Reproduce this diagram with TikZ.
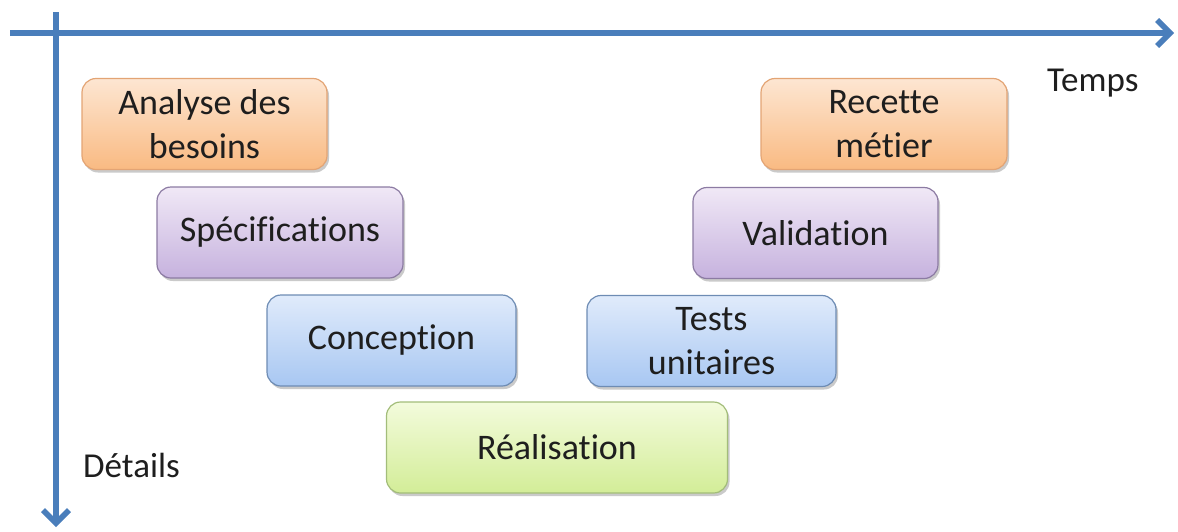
\documentclass[tikz,border=0pt]{standalone}
\usepackage{fontspec}
\setmainfont{Carlito}[Ligatures=NoCommon]
\usetikzlibrary{arrows.meta,shadows}
\definecolor{axisblue}{HTML}{4A7EBB}
\definecolor{txt}{HTML}{1E1E1E}
\definecolor{orTop}{HTML}{FDE6D2}
\definecolor{orBot}{HTML}{F9BA82}
\definecolor{orLine}{HTML}{E3A474}
\definecolor{puTop}{HTML}{F0E8F6}
\definecolor{puBot}{HTML}{C6B2DE}
\definecolor{puLine}{HTML}{8C7BA3}
\definecolor{blTop}{HTML}{E0EBFB}
\definecolor{blBot}{HTML}{A8C7F2}
\definecolor{blLine}{HTML}{6E8CB4}
\definecolor{grTop}{HTML}{F3FBDC}
\definecolor{grBot}{HTML}{D3ED98}
\definecolor{grLine}{HTML}{A3BD7A}
\tikzset{
  phase/.style={draw, line width=1.2pt, rounded corners=14pt, minimum height=91pt,
    align=center, text=txt, inner sep=0pt,
    font=\fontsize{36}{44}\selectfont,
    drop shadow={shadow xshift=2pt, shadow yshift=-3pt, opacity=0.35, fill=black!60}},
  orangebox/.style={phase, draw=orLine, top color=orTop, bottom color=orBot},
  purplebox/.style={phase, draw=puLine, top color=puTop, bottom color=puBot},
  bluebox/.style={phase, draw=blLine, top color=blTop, bottom color=blBot},
  greenbox/.style={phase, draw=grLine, top color=grTop, bottom color=grBot},
  axis/.style={draw=axisblue, line width=5.5pt,
    -{Straight Barb[length=13pt,width=26pt]}},
  axislabel/.style={text=txt, inner sep=0pt, font=\fontsize{35}{40}\selectfont}
}
\begin{document}
\begin{tikzpicture}[x=1pt,y=-1pt]
\useasboundingbox (0,0) rectangle (1178,531);
% axes
\coordinate (hs) at (10,33);
\coordinate (he) at (1174,33);
\coordinate (vs) at (56,12);
\coordinate (ve) at (56,527);
\draw[axis] (hs) -- (he);
\draw[axis] (vs) -- (ve);
% labels
\node[axislabel, anchor=base west] (temps) at (1047,91) {Temps};
\node[axislabel, anchor=base west] (details) at (83,477) {Détails};
% phases
\node[orangebox, minimum width=245pt] (ana) at (204.5,124) {Analyse des\\besoins};
\node[purplebox, minimum width=246pt] (spec) at (280,232.5) {Spécifications};
\node[bluebox, minimum width=249pt] (conc) at (391.5,340.5) {Conception};
\node[greenbox, minimum width=341pt] (real) at (557,447.5) {Réalisation};
\node[bluebox, minimum width=249pt] (tests) at (711.5,341) {Tests\\unitaires};
\node[purplebox, minimum width=245pt] (valid) at (815.5,233) {Validation};
\node[orangebox, minimum width=246pt] (rec) at (884,124) {Recette\\métier};
\end{tikzpicture}
\end{document}
